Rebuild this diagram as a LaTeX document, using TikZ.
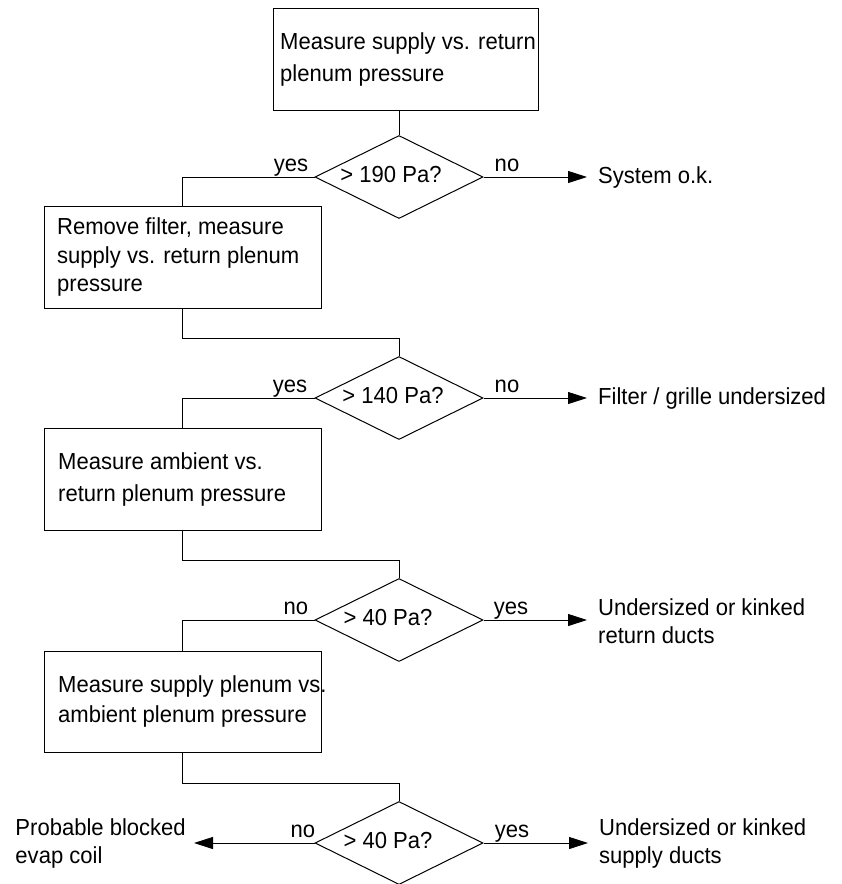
\documentclass[tikz,border=0pt]{standalone}
\usepackage{fontspec}
\setmainfont[FakeStretch=0.95]{Liberation Sans}
\usetikzlibrary{shapes.geometric,arrows.meta}
\begin{document}
\begin{tikzpicture}[x=1pt,y=-1pt,
 every node/.style={font=\fontsize{23.2}{28}\selectfont},
 box/.style={draw,line width=1pt,inner sep=0pt,rectangle},
 dia/.style={draw,line width=1pt,diamond,minimum width=168pt,minimum height=83pt,inner sep=0pt},
 btext/.style={anchor=west,inner sep=0pt,align=left},
 rtext/.style={anchor=west,inner xsep=11pt,inner ysep=0pt,align=left},
 ltext/.style={anchor=east,inner xsep=8pt,inner ysep=0pt,align=left},
 qtext/.style={inner sep=0pt},
 lab/.style={anchor=base,inner sep=0pt},
 conn/.style={line width=1pt},
 arr/.style={conn,-{Triangle[length=19pt,width=12pt]}}
]
\useasboundingbox (0,0) rectangle (842,884);

% boxes
\node[box,minimum width=265pt,minimum height=102pt] (b1) at (405.5,59) {};
\node[btext,font=\fontsize{23.2}{32}\selectfont] (t1) at (280,59) {Measure supply vs. return\\plenum pressure};

\node[box,minimum width=277pt,minimum height=102pt] (b2) at (182.5,257) {};
\node[btext,font=\fontsize{23.2}{28.5}\selectfont] (t2) at (57,257) {Remove filter, measure\\supply vs. return plenum\\pressure};

\node[box,minimum width=277pt,minimum height=102pt] (b3) at (182.5,479) {};
\node[btext,font=\fontsize{23.2}{32}\selectfont] (t3) at (58,479) {Measure ambient vs.\\return plenum pressure};

\node[box,minimum width=277pt,minimum height=101pt] (b4) at (182.5,701.5) {};
\node[btext,font=\fontsize{23.2}{30}\selectfont] (t4) at (58,701) {Measure supply plenum vs.\\ambient plenum pressure};

% diamonds
\node[dia] (d1) at (399,177) {};
\node[qtext] (q1) at (391,175) {> 190 Pa?};
\node[dia] (d2) at (399,398) {};
\node[qtext] (q2) at (393,396) {> 140 Pa?};
\node[dia] (d3) at (399,620) {};
\node[qtext] (q3) at (388,618) {> 40 Pa?};
\node[dia] (d4) at (399,843) {};
\node[qtext] (q4) at (388,841) {> 40 Pa?};

% outcome texts
\node[rtext] (r1) at (587,177) {System o.k.};
\node[rtext] (r2) at (587,398) {Filter / grille undersized};
\node[rtext] (r3) at (587,621) {Undersized or kinked\\return ducts};
\node[rtext] (r4) at (588,843) {Undersized or kinked\\supply ducts};
\node[ltext] (l4) at (194,843) {Probable blocked\\evap coil};

% yes/no labels
\node[lab] (y1) at (291,171) {yes};
\node[lab] (n1) at (507,171) {no};
\node[lab] (y2) at (290,392) {yes};
\node[lab] (n2) at (507,392) {no};
\node[lab] (n3) at (296,614) {no};
\node[lab] (y3) at (511,614) {yes};
\node[lab] (n4) at (303,837) {no};
\node[lab] (y4) at (512,837) {yes};

% connectors
\coordinate (e1) at (399,338);
\coordinate (e2) at (399,560);
\coordinate (e3) at (399,783);
\draw[conn] (b1.south -| d1.north) -- (d1.north);
\draw[conn] (d1.west) -| (b2.north);
\draw[conn] (b2.south) |- (e1) -- (d2.north);
\draw[conn] (d2.west) -| (b3.north);
\draw[conn] (b3.south) |- (e2) -- (d3.north);
\draw[conn] (d3.west) -| (b4.north);
\draw[conn] (b4.south) |- (e3) -- (d4.north);

\draw[arr] (d1.east) -- (d1.east -| r1.west);
\draw[arr] (d2.east) -- (d2.east -| r2.west);
\draw[arr] (d3.east) -- (d3.east -| r3.west);
\draw[arr] (d4.east) -- (d4.east -| r4.west);
\draw[arr] (d4.west) -- (d4.west -| l4.east);
\end{tikzpicture}
\end{document}
